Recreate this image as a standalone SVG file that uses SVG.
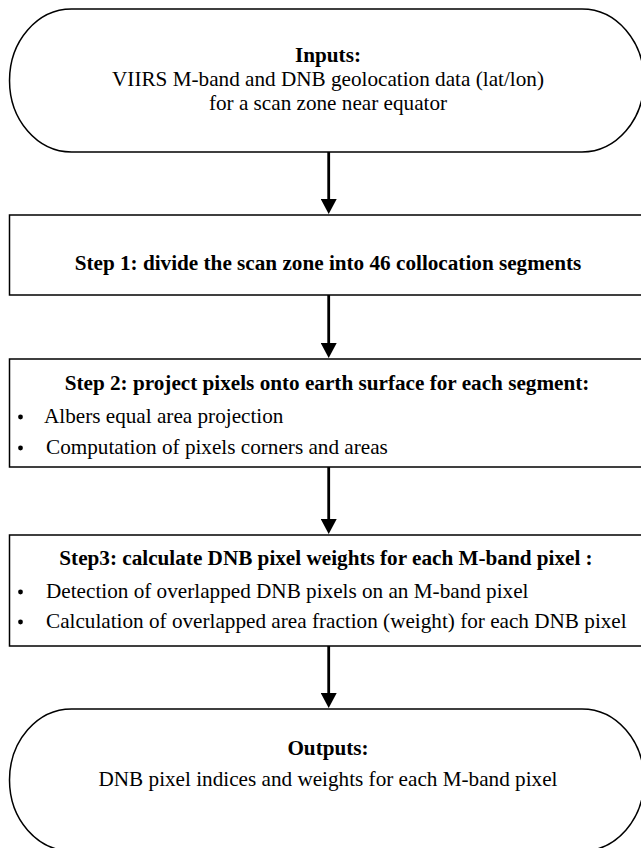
<svg xmlns="http://www.w3.org/2000/svg" width="641" height="848" viewBox="0 0 641 848">
<style>
.box{fill:#fff;stroke:#000;stroke-width:1.5}
.t{font-family:"Liberation Serif","Times New Roman",serif;font-size:21.2px;fill:#000}
.c{text-anchor:middle}
.b{font-weight:bold}
.bul{fill:#000}
.conn{stroke:#000;stroke-width:2.8;fill:none}
</style>
<defs>
<marker id="ah" markerUnits="userSpaceOnUse" markerWidth="15" markerHeight="16" refX="1" refY="8" orient="auto" viewBox="0 0 15 16">
<path d="M0,0 L15,8 L0,16 Z" fill="#000"/>
</marker>
</defs>
<rect width="641" height="848" fill="#fff"/>
<g id="connectors">
<line class="conn" x1="328.7" y1="152" x2="328.7" y2="200" marker-end="url(#ah)"/>
<line class="conn" x1="328.7" y1="295" x2="328.7" y2="344" marker-end="url(#ah)"/>
<line class="conn" x1="328.7" y1="467" x2="328.7" y2="520" marker-end="url(#ah)"/>
<line class="conn" x1="328.7" y1="646" x2="328.7" y2="694" marker-end="url(#ah)"/>
</g>
<g id="inputs">
<path class="box" d="M71.5,9 H582 A62 71.5 0 0 1 582,152 H71.5 A62 71.5 0 0 1 71.5,9 Z"/>
<text class="t c b" x="328" y="62">Inputs:</text>
<text class="t c" x="328" y="86">VIIRS M-band and DNB geolocation data (lat/lon)</text>
<text class="t c" x="328" y="110">for a scan zone near equator</text>
</g>
<g id="step1">
<rect class="box" x="9.5" y="215" width="634" height="80"/>
<text class="t c b" x="328" y="270">Step 1: divide the scan zone into 46 collocation segments</text>
</g>
<g id="step2">
<rect class="box" x="9.5" y="359" width="634" height="108"/>
<text class="t c b" x="327" y="390">Step 2: project pixels onto earth surface for each segment:</text>
<circle class="bul" cx="20.5" cy="417" r="2.4"/>
<text class="t" x="44" y="423">Albers equal area projection</text>
<circle class="bul" cx="20.5" cy="448" r="2.4"/>
<text class="t" x="46" y="454">Computation of pixels corners and areas</text>
</g>
<g id="step3">
<rect class="box" x="9.5" y="535" width="634" height="111"/>
<text class="t c b" x="326" y="565">Step3: calculate DNB pixel weights for each M-band pixel :</text>
<circle class="bul" cx="20.5" cy="592" r="2.4"/>
<text class="t" x="46" y="598">Detection of overlapped DNB pixels on an M-band pixel</text>
<circle class="bul" cx="20.5" cy="622" r="2.4"/>
<text class="t" x="46" y="628">Calculation of overlapped area fraction (weight) for each DNB pixel</text>
</g>
<g id="outputs">
<path class="box" d="M71.5,709 H582 A62 71 0 0 1 582,851 H71.5 A62 71 0 0 1 71.5,709 Z"/>
<text class="t c b" x="328" y="755">Outputs:</text>
<text class="t c" x="328" y="786">DNB pixel indices and weights for each M-band pixel</text>
</g>
</svg>
